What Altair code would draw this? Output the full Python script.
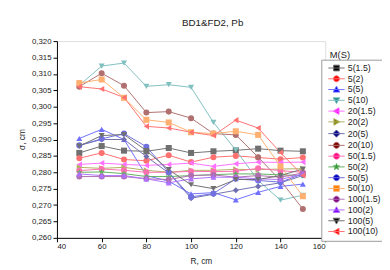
import altair as alt
import pandas as pd

R = [50, 60, 70, 80, 90, 100, 110, 120, 130, 140, 150]

series_names = ["5(1.5)", "5(2)", "5(5)", "5(10)", "20(1.5)", "20(2)", "20(5)", "20(10)",
                "50(1.5)", "50(2)", "50(5)", "50(10)", "100(1.5)", "100(2)", "100(5)", "100(10)"]

s5_1_5 = [0.2859, 0.2880, 0.2866, 0.2864, 0.2874, 0.2859, 0.2864, 0.2867, 0.2872, 0.2866, 0.2864]
s5_2 = [0.2843, 0.2859, 0.2839, 0.2835, 0.2852, 0.2831, 0.2846, 0.2850, 0.2845, 0.2840, 0.2845]
s5_5 = [0.2903, 0.2931, 0.2900, 0.2790, 0.2773, 0.2734, 0.2738, 0.2716, 0.2739, 0.2757, 0.2764]
s5_10 = [0.3065, 0.3124, 0.3133, 0.3062, 0.3067, 0.3059, 0.2952, 0.2868, 0.2775, 0.2715, 0.2730]
s20_1_5 = [0.2824, 0.2828, 0.2824, 0.2821, 0.2824, 0.2828, 0.2818, 0.2826, 0.2831, 0.2830, 0.2831]
s20_2 = [0.2815, 0.2812, 0.2815, 0.2806, 0.2800, 0.2806, 0.2806, 0.2809, 0.2808, 0.2810, 0.2811]
s20_5 = [0.2882, 0.2900, 0.2900, 0.2848, 0.2798, 0.2721, 0.2733, 0.2745, 0.2757, 0.2768, 0.2790]
s20_10 = [0.3061, 0.3102, 0.3064, 0.2982, 0.2985, 0.2965, 0.2918, 0.2914, 0.2846, 0.2775, 0.2688]
s50_1_5 = [0.2805, 0.2810, 0.2806, 0.2800, 0.2800, 0.2803, 0.2802, 0.2803, 0.2812, 0.2805, 0.2800]
s50_2 = [0.2800, 0.2801, 0.2796, 0.2787, 0.2787, 0.2790, 0.2793, 0.2795, 0.2795, 0.2792, 0.2790]
s50_5 = [0.2882, 0.2902, 0.2918, 0.2878, 0.2800, 0.2725, 0.2735, 0.2780, 0.2775, 0.2770, 0.2795]
s50_10 = [0.3072, 0.3083, 0.3027, 0.2960, 0.2952, 0.2922, 0.2918, 0.2925, 0.2914, 0.2818, 0.2727]
s100_1_5 = [0.2787, 0.2787, 0.2787, 0.2780, 0.2778, 0.2790, 0.2792, 0.2785, 0.2790, 0.2785, 0.2798]
s100_2 = [0.2795, 0.2790, 0.2790, 0.2780, 0.2768, 0.2780, 0.2785, 0.2785, 0.2780, 0.2778, 0.2795]
s100_5 = [0.2880, 0.2912, 0.2915, 0.2866, 0.2808, 0.2762, 0.2750, 0.2778, 0.2778, 0.2790, 0.2810]
s100_10 = [0.3061, 0.3054, 0.3028, 0.2940, 0.2935, 0.2922, 0.2912, 0.2959, 0.2935, 0.2860, 0.2790]

all_series = [s5_1_5, s5_2, s5_5, s5_10, s20_1_5, s20_2, s20_5, s20_10,
              s50_1_5, s50_2, s50_5, s50_10, s100_1_5, s100_2, s100_5, s100_10]

colors = ["#000000", "#ff0000", "#0000ff", "#1a8f8f", "#ff00ff", "#808000", "#000080", "#800000",
          "#ff0080", "#008000", "#0000c0", "#ff8000", "#800080", "#8000ff", "#000000", "#ff0000"]
line_colors = ["#707070", "#ff7070", "#7070ff", "#80c0c0", "#ff70ff", "#b0b060", "#7070b0", "#b07070",
               "#ff70b0", "#60b060", "#7070e0", "#ffb070", "#b070b0", "#b070ff", "#707070", "#ff7070"]

STAR = "M0,-1.1L0.26,-0.36L1.05,-0.34L0.42,0.14L0.65,0.89L0,0.44L-0.65,0.89L-0.42,0.14L-1.05,-0.34L-0.26,-0.36Z"
point_shapes = ["square", "circle", "triangle-up", "triangle-down", "triangle-left", "triangle-right",
                "diamond", "circle", "circle", STAR, "circle", "square", "circle", "triangle-up",
                "triangle-down", "triangle-left"]

LINE = "M-2.7,0L2.7,0"
leg_paths = {
    "square": LINE + "M-0.95,-0.95L0.95,-0.95L0.95,0.95L-0.95,0.95Z",
    "circle": LINE + "M-1,0A1,1,0,1,1,1,0A1,1,0,1,1,-1,0Z",
    "triangle-up": LINE + "M0,-1.1L1.1,0.85L-1.1,0.85Z",
    "triangle-down": LINE + "M0,1.1L1.1,-0.85L-1.1,-0.85Z",
    "triangle-left": LINE + "M-1.1,0L0.85,-1.1L0.85,1.1Z",
    "triangle-right": LINE + "M1.1,0L-0.85,-1.1L-0.85,1.1Z",
    "diamond": LINE + "M0,-1.2L1.2,0L0,1.2L-1.2,0Z",
    STAR: LINE + STAR,
}
legend_shapes = [leg_paths[s] for s in point_shapes]

rows = []
for name, vals in zip(series_names, all_series):
    for r, v in zip(R, vals):
        rows.append({"series": name, "R": r, "sigma": v})
df = pd.DataFrame(rows)

y_ticks = [0.260, 0.265, 0.270, 0.275, 0.280, 0.285, 0.290, 0.295, 0.300, 0.305, 0.310, 0.315, 0.320]
x_ticks = [40, 60, 80, 100, 120, 140, 160]

FONT = "Liberation Sans"

x_enc = alt.X("R:Q", scale=alt.Scale(domain=[40, 160], nice=False),
              axis=alt.Axis(title="R, cm", values=x_ticks, grid=False, tickSize=4, labelPadding=1,
                            labelFontSize=8, titleFontSize=8.5, titleFontWeight="normal",
                            titleX=147, titleY=23, titleBaseline="middle",
                            domainColor="black", tickColor="black", labelColor="#222",
                            titleColor="#222", labelFont=FONT, titleFont=FONT))
y_enc = alt.Y("sigma:Q", scale=alt.Scale(domain=[0.260, 0.320], nice=False, zero=False),
              axis=alt.Axis(title="σ, cm", values=y_ticks, grid=False, tickSize=4, labelPadding=2,
                            labelExpr="replace(format(datum.value, '.3f'), '.', ',')",
                            labelFontSize=8, titleFontSize=8.5, titleFontWeight="normal",
                            titleX=-36, titleY=100, titleBaseline="middle", titleAngle=-90,
                            domainColor="black", tickColor="black", labelColor="#222",
                            titleColor="#222", labelFont=FONT, titleFont=FONT))

base = alt.Chart(df)

lines = base.mark_line(strokeWidth=1).encode(
    x=x_enc, y=y_enc,
    color=alt.Color("series:N", scale=alt.Scale(domain=series_names, range=line_colors), legend=None),
    detail="series:N",
)

points = base.mark_point(filled=True, size=38, opacity=1).encode(
    x=x_enc, y=y_enc,
    color=alt.Color("series:N", scale=alt.Scale(domain=series_names, range=colors), legend=None),
    shape=alt.Shape("series:N", scale=alt.Scale(domain=series_names, range=point_shapes), legend=None),
)

leg = alt.Legend(orient="none", legendX=270, legendY=19, title=None, strokeColor="#9a9a9a",
                 fillColor="white", padding=4, symbolSize=38, symbolStrokeWidth=1, symbolOpacity=1,
                 symbolFillColor="white", labelFontSize=9, labelFont=FONT, labelColor="#222",
                 labelOffset=7, symbolOffset=7, rowPadding=0, direction="vertical")

legend_layer = base.mark_point(opacity=0, size=38).encode(
    x=x_enc, y=y_enc,
    fill=alt.Fill("series:N", scale=alt.Scale(domain=series_names, range=colors), legend=leg),
    stroke=alt.Stroke("series:N", scale=alt.Scale(domain=series_names, range=line_colors), legend=leg),
    shape=alt.Shape("series:N", scale=alt.Scale(domain=series_names, range=legend_shapes), legend=leg),
)

legend_title = alt.Chart(pd.DataFrame({"t": ["M(S)"]})).mark_text(
    fontSize=9.5, font=FONT, color="#222"
).encode(text="t:N", x=alt.value(289), y=alt.value(14))

chart = alt.layer(lines, points, legend_layer, legend_title).resolve_scale(
    shape="independent", fill="independent", stroke="independent"
).properties(
    width=274, height=201,
    title=alt.TitleParams("BD1&FD2, Pb", fontSize=10, font=FONT, fontWeight="normal",
                          color="#222", anchor="middle", dx=22, offset=9),
    padding={"left": 50, "top": 31, "right": 58, "bottom": 30},
    autosize=alt.AutoSizeParams(type="none"),
).configure_view(stroke=None).configure(background="white")

chart.save("out.html", embed_options={"renderer": "svg", "actions": False})
